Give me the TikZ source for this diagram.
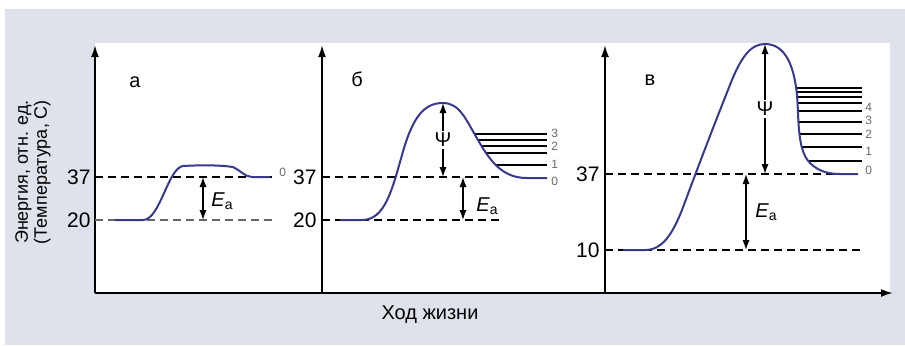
\documentclass[tikz,border=0pt]{standalone}
\usepackage{fontspec}
\setmainfont{Liberation Sans}
\usetikzlibrary{arrows.meta,positioning}
\definecolor{PanelGray}{RGB}{224,226,235}
\definecolor{CurveBlue}{RGB}{58,58,140}
\definecolor{LevelGray}{RGB}{105,105,105}

\begin{document}
\begin{tikzpicture}[x=0.5pt, y=-0.5pt,
    axis/.style={line width=1pt, -{Latex[length=6pt,width=4pt]}},
    curve/.style={line width=1pt, CurveBlue, line join=round},
    level/.style={line width=0.7pt},
    guide/.style={dash pattern=on 4pt off 2.5pt, line width=0.7pt},
    dbl/.style={line width=0.7pt, {Latex[length=5pt,width=3.6pt]}-{Latex[length=5pt,width=3.6pt]}},
    tick/.style={anchor=east, font=\fontsize{10.5}{12}\selectfont, inner sep=1pt},
    panel/.style={font=\fontsize{10}{12}\selectfont},
    num/.style={font=\fontsize{6}{7}\selectfont, text=LevelGray, inner sep=0.5pt, anchor=west},
    ea/.style={font=\fontsize{10}{12}\selectfont, anchor=west, inner sep=1pt},
    psi/.style={font=\fontsize{10}{12}\selectfont, fill=white, inner sep=1pt}
  ]
  % background and plot area
  \fill[white] (0,0) rectangle (905,345);
  \fill[PanelGray] (5,9) rectangle (905,345);
  \fill[white] (95,43) rectangle (890,293);
  \useasboundingbox (0,0) rectangle (905,345);

  % axes
  \coordinate (O) at (95,293);
  \coordinate (xend) at (893,293);
  \coordinate (ob) at (322,293);
  \coordinate (oc) at (605,293);
  \coordinate (ya) at (95,45);
  \coordinate (yb) at (322,45);
  \coordinate (yc) at (605,45);
  \draw[axis] (O) -- (xend);
  \draw[axis] (O) -- (ya);
  \draw[axis] (ob) -- (yb);
  \draw[axis] (oc) -- (yc);
  \node[rotate=90, align=center, font=\fontsize{9}{9.5}\selectfont] (ylab) at (33,172) {Энергия, отн. ед.\\(Температура, С)};
  \node[font=\fontsize{10}{12}\selectfont] (xlab) at (430,315) {Ход жизни};

  % panel a
  \node[panel] (la) at (135,82) {а};
  \node[tick] (a37) at (93,177) {37};
  \node[tick] (a20) at (93,220) {20};
  \coordinate (a37r) at (272,177);
  \coordinate (a20r) at (276,220);
  \draw[guide] (O |- a37.east) -- (a37r);
  \draw[guide, black!60] (O |- a20.east) -- (a20r);
  \draw[curve] (115,220) -- (143,220) .. controls (160,220) and (168,168) .. (183,166)
    .. controls (200,165) and (220,165) .. (233,167) .. controls (240,170) and (245,177) .. (252,177) -- (270,177);
  \node[num] (a0) at (278,172) {0};
  \coordinate (aEt) at (203,177);
  \coordinate (aEb) at (203,220);
  \draw[dbl] (aEt) -- (aEb);
  \node[ea] (aEa) at (209,201) {\textit{E}\textsubscript{a}};

  % panel b
  \node[panel] (lb) at (357,79) {б};
  \node[tick] (b37) at (319,177) {37};
  \node[tick] (b20) at (319,220) {20};
  \coordinate (b37r) at (503,177);
  \coordinate (b20r) at (503,220);
  \draw[guide] (ob |- b37.east) -- (b37r);
  \draw[guide] (ob |- b20.east) -- (b20r);
  \begin{scope}
    \clip (443,103) .. controls (460,103) and (466,120) .. (478,140)
      .. controls (492,165) and (505,178) .. (527,178) -- (560,178) -- (560,100) -- cycle;
    \foreach \y in {134,140,146,153,165}
      \draw[level] (430,\y) -- (547,\y);
  \end{scope}
  \draw[curve] (340,220) -- (362,220) .. controls (385,220) and (392,190) .. (402,155)
    .. controls (413,115) and (425,103) .. (443,103) .. controls (460,103) and (466,120) .. (478,140)
    .. controls (492,165) and (505,178) .. (527,178) -- (547,178);
  \node[num] (b3) at (550,133) {3};
  \node[num] (b2) at (550,146) {2};
  \node[num] (b1) at (550,164) {1};
  \node[num] (b0) at (550,181) {0};
  \coordinate (bPt) at (443,103);
  \coordinate (bPb) at (443,177);
  \draw[dbl] (bPt) -- (bPb) node[psi, midway] (bPsi) {Ψ};
  \coordinate (bEt) at (463,177);
  \coordinate (bEb) at (463,220);
  \draw[dbl] (bEt) -- (bEb);
  \node[ea] (bEa) at (474,206) {\textit{E}\textsubscript{a}};

  % panel c
  \node[panel] (lc) at (650,80) {в};
  \node[tick] (c37) at (602,174) {37};
  \node[tick] (c10) at (602,250) {10};
  \coordinate (c37r) at (836,174);
  \coordinate (c10r) at (862,250);
  \draw[guide] (oc |- c37.east) -- (c37r);
  \draw[guide] (oc |- c10.east) -- (c10r);
  \begin{scope}
    \clip (765,44) .. controls (785,44) and (794,65) .. (797,95)
      .. controls (799,120) and (797,150) .. (810,163) .. controls (818,171) and (828,174) .. (840,174)
      -- (875,174) -- (875,40) -- cycle;
    \foreach \y in {88,92,97,103,111,122,134,147,161}
      \draw[level] (780,\y) -- (862,\y);
  \end{scope}
  \draw[curve] (623,250) -- (645,250) .. controls (662,250) and (672,235) .. (682,210)
    .. controls (695,175) and (712,130) .. (728,90) .. controls (740,58) and (750,44) .. (765,44)
    .. controls (785,44) and (794,65) .. (797,95) .. controls (799,120) and (797,150) .. (810,163)
    .. controls (818,171) and (828,174) .. (840,174) -- (858,174);
  \node[num] (c4) at (864,107) {4};
  \node[num] (c3) at (864,120) {3};
  \node[num] (c2) at (864,134) {2};
  \node[num] (c1) at (864,151) {1};
  \node[num] (c0) at (864,170) {0};
  \coordinate (cPt) at (765,44);
  \coordinate (cPb) at (765,174);
  \draw[dbl] (cPt) -- (cPb) node[psi, midway] (cPsi) {Ψ};
  \coordinate (cEt) at (746,174);
  \coordinate (cEb) at (746,250);
  \draw[dbl] (cEt) -- (cEb);
  \node[ea] (cEa) at (753,212) {\textit{E}\textsubscript{a}};
\end{tikzpicture}
\end{document}
